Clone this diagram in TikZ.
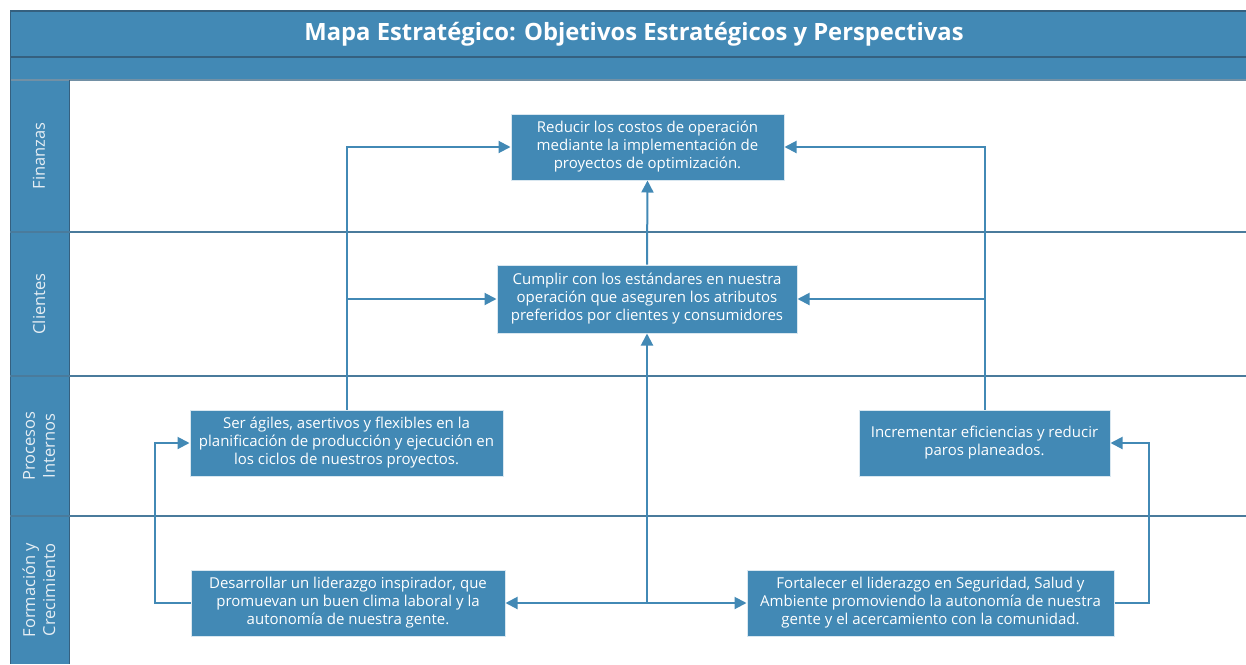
\documentclass[tikz,border=0pt]{standalone}
\usepackage{fontspec}
\setmainfont{Open Sans}
\usepackage{tikz}
\usetikzlibrary{arrows.meta}

\definecolor{mapblue}{HTML}{4289B5}
\definecolor{mapedge}{HTML}{35607F}
\definecolor{laneline}{HTML}{4A7B9C}
\definecolor{labeltext}{HTML}{E6EEF4}

\begin{document}
\begin{tikzpicture}[x=1pt,y=-1pt,
  obj/.style={fill=mapblue,draw=white!80!mapblue,line width=1pt,inner sep=0pt,
    text=white,align=center,font=\fontsize{15}{18}\selectfont,minimum height=66pt},
  lanelabel/.style={rotate=90,text=labeltext,align=center,font=\fontsize{16.5}{20}\selectfont},
  arr/.style={draw=mapblue,line width=2pt,-{Triangle[length=12pt,width=12pt]}},
  link/.style={draw=mapblue,line width=2pt}]
\useasboundingbox (0,0) rectangle (1246,664);

% marco y carriles
\fill[mapblue] (10,11) rectangle (1246,80);
\fill[mapblue] (10,80) rectangle (69,664);
\draw[mapedge,line width=1.5pt] (10,11) -- (1246,11);
\draw[mapedge,line width=1.5pt] (10,57) -- (1246,57);
\draw[mapedge!70!white,line width=1.5pt] (10,80) -- (1246,80);
\draw[mapedge,line width=1pt] (10,11) -- (10,664);
\draw[mapedge,line width=1pt] (69,80) -- (69,664);
\foreach \y in {232,376,516}{
  \draw[laneline,line width=1.3pt] (10,\y) -- (1246,\y);
  }

\node[text=white,font=\fontsize{23.8}{28}\selectfont\bfseries] (title) at (634,34) {Mapa Estratégico: Objetivos Estratégicos y Perspectivas};

\node[lanelabel] (fin) at (39,156) {Finanzas};
\node[lanelabel] (cli) at (39,304) {Clientes};
\node[lanelabel] (pro) at (39,446) {Procesos\\Internos};
\node[lanelabel] (for) at (39,590) {Formación y\\Crecimiento};

% objetivos
\node[obj,minimum width=273pt] (red) at (647.5,147) {Reducir los costos de operación\\mediante la implementación de\\proyectos de optimización.};
\node[obj,minimum width=300pt,minimum height=68pt] (cum) at (647,299) {Cumplir con los estándares en nuestra\\operación que aseguren los atributos\\preferidos por clientes y consumidores};
\node[obj,minimum width=313pt] (ser) at (346.5,443) {Ser ágiles, asertivos y flexibles en la\\planificación de producción y ejecución en\\los ciclos de nuestros proyectos.};
\node[obj,minimum width=251pt] (inc) at (984.5,443) {Incrementar eficiencias y reducir\\paros planeados.};
\node[obj,minimum width=314pt] (des) at (348,603) {Desarrollar un liderazgo inspirador, que\\promuevan un buen clima laboral y la\\autonomía de nuestra gente.};
\node[obj,minimum width=367pt] (fort) at (930.5,603) {Fortalecer el liderazgo en Seguridad, Salud y\\Ambiente promoviendo la autonomía de nuestra\\gente y el acercamiento con la comunidad.};

% conexiones
\coordinate (jn) at (647,603);
\draw[arr] (jn) -- (cum.south);
\draw[arr] (jn) -- (des.east);
\draw[arr] (jn) -- (fort.west);
\draw[arr] (cum.north) -- (red.south);
\draw[arr] (ser.north) |- (red.west);
\draw[arr] (ser.north |- cum.west) -- (cum.west);
\draw[arr] (inc.north) |- (red.east);
\draw[arr] (inc.north |- cum.east) -- (cum.east);
\draw[arr] (des.west) -- ++(-36,0) |- (ser.west);
\draw[arr] (fort.east) -- ++(34,0) |- (inc.east);
\end{tikzpicture}
\end{document}
